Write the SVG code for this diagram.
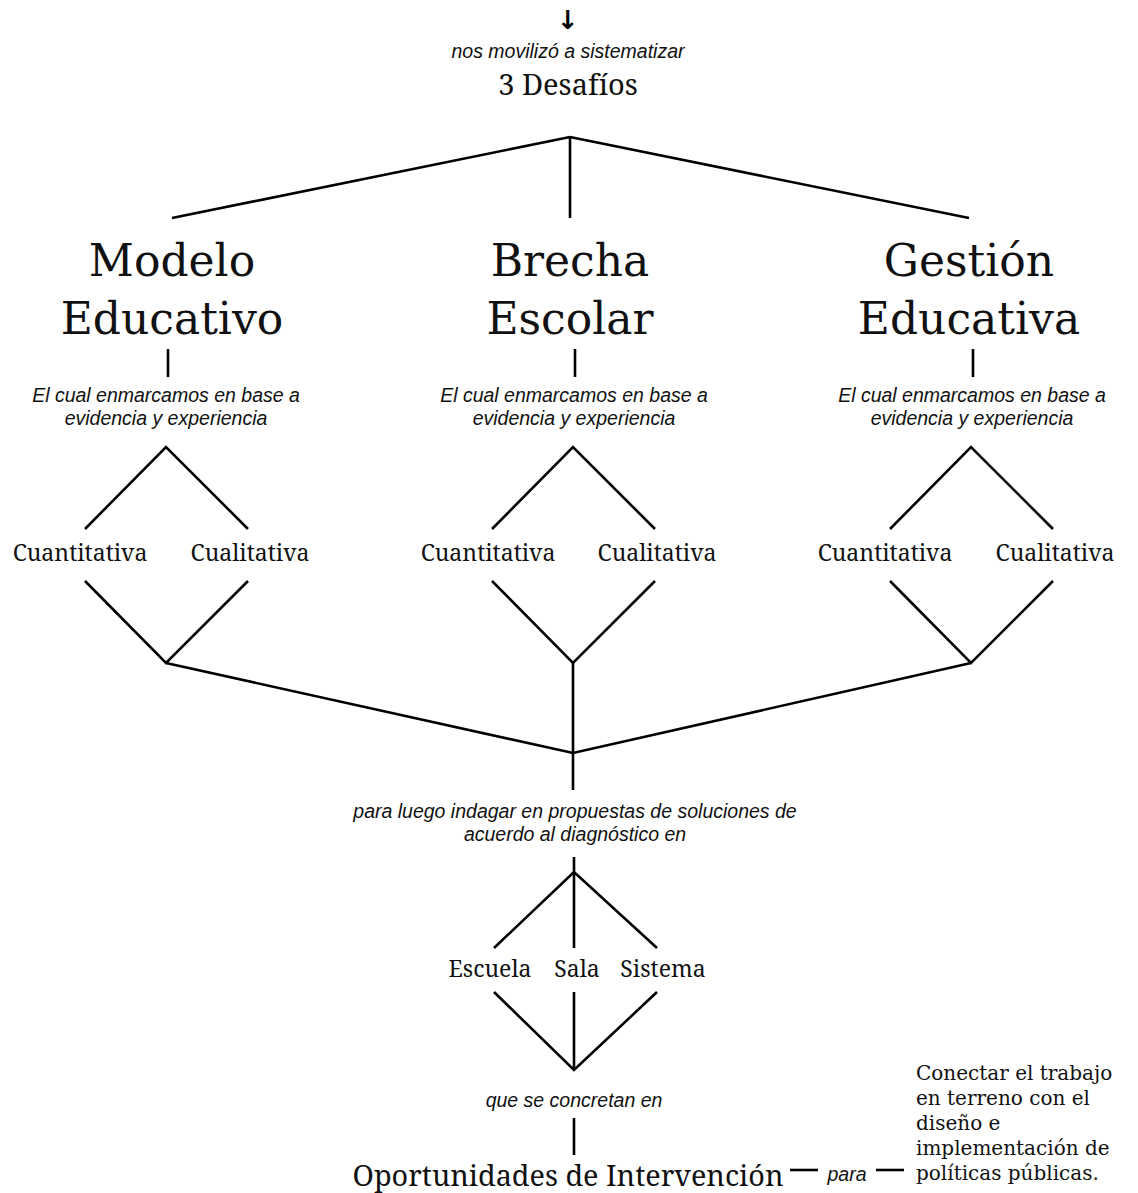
<svg xmlns="http://www.w3.org/2000/svg" width="1138" height="1193" viewBox="0 0 1138 1193">
<style>
.ln{stroke:#000;stroke-width:2.6;fill:none;stroke-linecap:butt}
.h{font-family:"DejaVu Serif","Liberation Serif",serif;font-size:44px;fill:#111;text-anchor:middle}
.b{font-family:"Noto Serif","DejaVu Serif","Liberation Serif",serif;font-size:23px;fill:#111;text-anchor:middle}
.bs{font-family:"DejaVu Serif","Liberation Serif",serif;font-size:20px;fill:#111;text-anchor:start}
.i{font-family:"Liberation Sans","Noto Sans",sans-serif;font-style:italic;font-size:19.5px;fill:#111;text-anchor:middle}
.big{font-size:29px}
.opp{font-size:28.8px}
.arr{font-family:"DejaVu Sans",sans-serif;font-size:26px;font-weight:bold;fill:#000;text-anchor:middle}
</style>
<rect width="1138" height="1193" fill="#fff"/>
<g id="connectors">
<line class="ln" x1="570" y1="137" x2="570" y2="218"/>
<line class="ln" x1="570" y1="137" x2="172" y2="218"/>
<line class="ln" x1="570" y1="137" x2="969" y2="218"/>
<line class="ln" x1="168" y1="349" x2="168" y2="377"/>
<line class="ln" x1="575" y1="349" x2="575" y2="377"/>
<line class="ln" x1="973" y1="349" x2="973" y2="377"/>
<polyline class="ln" points="85,529 166,447 248,529"/>
<polyline class="ln" points="85,581 166,663 248,581"/>
<polyline class="ln" points="492,529 573,447 655,529"/>
<polyline class="ln" points="492,581 573,663 655,581"/>
<polyline class="ln" points="890,529 971,447 1053,529"/>
<polyline class="ln" points="890,581 971,663 1053,581"/>
<polyline class="ln" points="166,663 573,753 971,663"/>
<line class="ln" x1="573" y1="663" x2="573" y2="790"/>
<line class="ln" x1="574" y1="857" x2="574" y2="948"/>
<polyline class="ln" points="494,948 574,872 657,948"/>
<polyline class="ln" points="494,992 574,1070 657,992"/>
<line class="ln" x1="574" y1="992" x2="574" y2="1070"/>
<line class="ln" x1="574" y1="1118" x2="574" y2="1155"/>
<line class="ln" x1="790" y1="1170" x2="818" y2="1170"/>
<line class="ln" x1="876" y1="1170" x2="904" y2="1170"/>
</g>
<g id="top">
<text class="arr" x="568" y="29">↓</text>
<text class="i" x="568" y="58">nos movilizó a sistematizar</text>
<text class="b big" x="568" y="95">3 Desafíos</text>
</g>
<g id="modelo">
<text class="h" x="172" y="276">Modelo</text>
<text class="h" x="172" y="334">Educativo</text>
<text class="i" x="166" y="402">El cual enmarcamos en base a</text>
<text class="i" x="166" y="425">evidencia y experiencia</text>
<text class="b" x="80" y="561">Cuantitativa</text>
<text class="b" x="250" y="561">Cualitativa</text>
</g>
<g id="brecha">
<text class="h" x="570" y="276">Brecha</text>
<text class="h" x="570" y="334">Escolar</text>
<text class="i" x="574" y="402">El cual enmarcamos en base a</text>
<text class="i" x="574" y="425">evidencia y experiencia</text>
<text class="b" x="488" y="561">Cuantitativa</text>
<text class="b" x="657" y="561">Cualitativa</text>
</g>
<g id="gestion">
<text class="h" x="969" y="276">Gestión</text>
<text class="h" x="969" y="334">Educativa</text>
<text class="i" x="972" y="402">El cual enmarcamos en base a</text>
<text class="i" x="972" y="425">evidencia y experiencia</text>
<text class="b" x="885" y="561">Cuantitativa</text>
<text class="b" x="1055" y="561">Cualitativa</text>
</g>
<g id="indagar">
<text class="i" x="575" y="818">para luego indagar en propuestas de soluciones de</text>
<text class="i" x="575" y="841">acuerdo al diagnóstico en</text>
</g>
<g id="niveles">
<text class="b" x="490" y="977">Escuela</text>
<text class="b" x="577" y="977">Sala</text>
<text class="b" x="663" y="977">Sistema</text>
</g>
<g id="concretan">
<text class="i" x="574" y="1107">que se concretan en</text>
</g>
<g id="oportunidades">
<text class="b opp" x="568" y="1186">Oportunidades de Intervención</text>
<text class="i" x="847" y="1181">para</text>
</g>
<g id="conectar">
<text class="bs" x="916" y="1080">Conectar el trabajo</text>
<text class="bs" x="916" y="1105">en terreno con el</text>
<text class="bs" x="916" y="1130">diseño e</text>
<text class="bs" x="916" y="1155">implementación de</text>
<text class="bs" x="916" y="1180">políticas públicas.</text>
</g>
</svg>
